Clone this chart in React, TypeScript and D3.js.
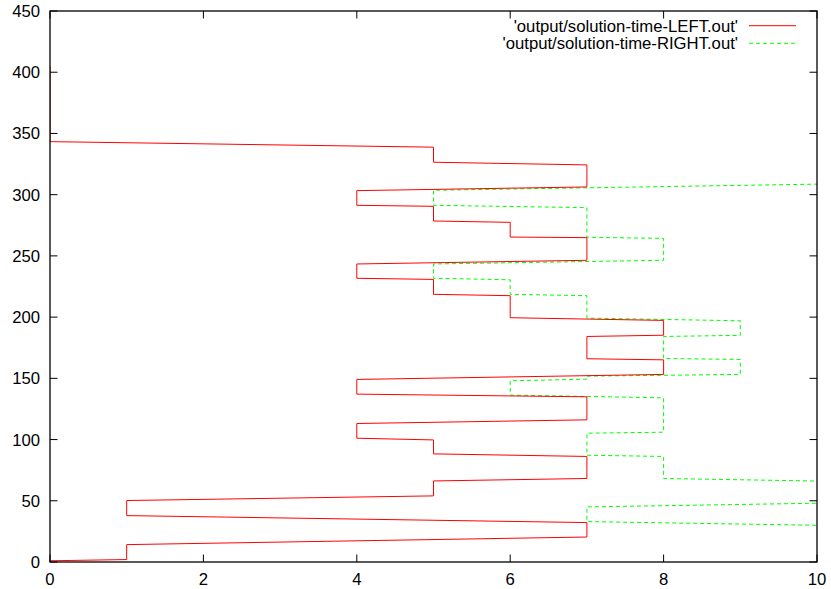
import React from "react";
import * as d3 from "d3";

const W = 831;
const H = 589;

const xTicks = [0, 2, 4, 6, 8, 10];
const yTicks = [0, 50, 100, 150, 200, 250, 300, 350, 400, 450];

const leftLabel = "'output/solution-time-LEFT.out'";
const rightLabel = "'output/solution-time-RIGHT.out'";

const leftX = [0, 1, 1, 7, 7, 1, 1, 5, 5, 7, 7, 5, 5, 4, 4, 7, 7, 4, 4, 8, 8, 7, 7, 8, 8, 6, 6, 5, 5, 4, 4, 7, 7, 6, 6, 5, 5, 4, 4, 7, 7, 5, 5, 0, 0];
const leftTime = [1, 2, 14.2, 20.4, 32.2, 37.9, 50.2, 54, 66.2, 68.2, 86.2, 88.3, 99.7, 101.1, 113.1, 116.1, 134.9, 137.1, 149.1, 153.2, 165.1, 166, 184.2, 185.2, 197.3, 199.5, 217.5, 218.6, 230.8, 231.7, 243.4, 246.4, 264.9, 265.4, 277.4, 278.5, 290.5, 291.3, 303.3, 306.3, 324.3, 326.5, 338.8, 343.3, 404.6];

const rightX = [13, 7, 7, 13, 13, 8, 8, 7, 7, 8, 8, 6, 6, 7, 7, 9, 9, 8, 8, 9, 9, 7, 7, 6, 6, 5, 5, 8, 8, 7, 7, 5, 5, 14];
const rightTime = [27, 33, 45, 51, 63, 68.2, 86.2, 87.2, 105.2, 106, 134.1, 136.3, 148, 149.3, 151.8, 153.2, 165.4, 166.2, 184.2, 185.1, 197, 199.2, 217.5, 218.6, 230.5, 231.7, 243.4, 246.4, 264.3, 265.2, 289.4, 291.3, 303.6, 312.6];

export default function App() {
  const left = 50, right = 817, top = 11, bottom = 562;
  const x = d3.scaleLinear().domain([0, 10]).range([left, right]);
  const y = d3.scaleLinear().domain([0, 450]).range([bottom, top]);
  const line = d3.line<[number, number]>().x((d) => x(d[0])).y((d) => y(d[1]));
  const leftPts = leftX.map((v, i) => [v, leftTime[i]] as [number, number]);
  const rightPts = rightX.map((v, i) => [v, rightTime[i]] as [number, number]);
  const font = "'Liberation Sans', Arial, sans-serif";
  const fs = 16.7;
  const tl = 7.5;
  return (
    <svg width={W} height={H} style={{ position: "absolute", left: 0, top: 0, background: "#fff" }} fontFamily={font}>
      <defs>
        <clipPath id="plot">
          <rect x={left} y={top} width={right - left} height={bottom - top} />
        </clipPath>
      </defs>
      <rect x={0} y={0} width={W} height={H} fill="#fff" />
      <g clipPath="url(#plot)">
        <path d={line(rightPts) || ""} fill="none" stroke="#00ff00" strokeWidth={1} strokeDasharray="4,3" />
        <path d={line(leftPts) || ""} fill="none" stroke="#ff0000" strokeWidth={1} />
      </g>
      {xTicks.map((t) => (
        <g key={"x" + t}>
          <line x1={x(t)} x2={x(t)} y1={bottom} y2={bottom - tl} stroke="#000" />
          <line x1={x(t)} x2={x(t)} y1={top} y2={top + tl} stroke="#000" />
          <text x={x(t)} y={584.5} fontSize={fs} textAnchor="middle" fill="#000">{t}</text>
        </g>
      ))}
      {yTicks.map((t) => (
        <g key={"y" + t}>
          <line x1={left} x2={left + tl} y1={y(t)} y2={y(t)} stroke="#000" />
          <line x1={right} x2={right - tl} y1={y(t)} y2={y(t)} stroke="#000" />
          <text x={40} y={y(t)} dy="0.36em" fontSize={fs} textAnchor="end" fill="#000">{t}</text>
        </g>
      ))}
      <rect x={left} y={top} width={right - left} height={bottom - top} fill="none" stroke="#000" strokeWidth={1.3} />
      <g>
        <text x={738} y={25.7} dy="0.36em" fontSize={fs} textAnchor="end" fill="#000">{leftLabel}</text>
        <line x1={749} x2={796} y1={25.7} y2={25.7} stroke="#ff0000" />
        <text x={738} y={43.3} dy="0.36em" fontSize={fs} textAnchor="end" fill="#000">{rightLabel}</text>
        <line x1={749} x2={796} y1={43.3} y2={43.3} stroke="#00ff00" strokeDasharray="4,3" />
      </g>
    </svg>
  );
}
